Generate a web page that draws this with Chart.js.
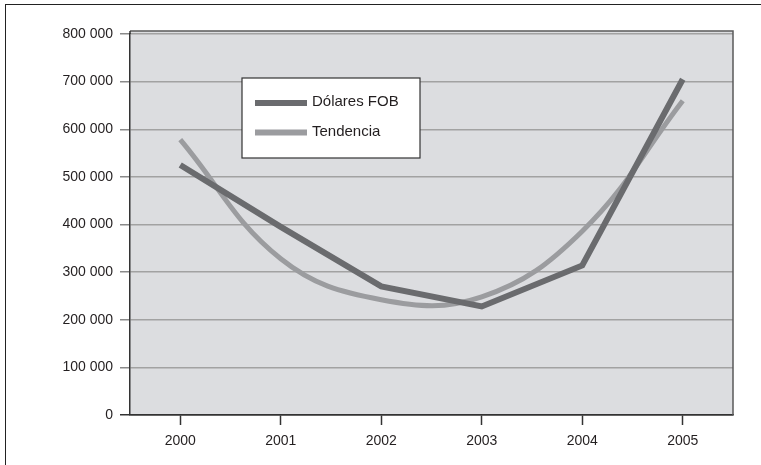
<!DOCTYPE html>
<html>
<head>
<meta charset="utf-8">
<script src="https://cdn.jsdelivr.net/npm/chart.js@4.4.1/dist/chart.umd.min.js"></script>
<style>
  html, body { margin: 0; padding: 0; background: #ffffff; overflow: hidden; }
  #wrap { position: relative; width: 761px; height: 465px; }
  #frame { position: absolute; left: 5px; top: 4px; width: 800px; height: 500px;
           border-top: 1.5px solid #222; border-left: 1.5px solid #222; }
  #c { position: absolute; left: 0; top: 0; }
</style>
</head>
<body>
<div id="wrap">
  <div id="frame"></div>
  <canvas id="c" width="761" height="465"></canvas>
</div>
<script>
// Exportaciones anuales (dólares FOB) y su línea de tendencia
const years = ['2000', '2001', '2002', '2003', '2004', '2005'];
const dolaresFob = [525000, 395000, 270000, 228000, 314000, 705000];
const tendencia = [578000, 328000, 242000, 248000, 386000, 660000];
const seriesNames = ['Dólares FOB', 'Tendencia'];

const FONT = '"Liberation Sans", Arial, Helvetica, sans-serif';
const TEXT = '#231f20';
const DARK = '#6a6b6e';
const LIGHT = '#9b9c9f';

function withSpaces(v) {
  return String(v).replace(/\B(?=(\d{3})+(?!\d))/g, ' ');
}

// Gray plot background and frame around the plotting area
const plotFrame = {
  id: 'plotFrame',
  beforeDraw(chart) {
    const { ctx, chartArea: a } = chart;
    ctx.save();
    ctx.fillStyle = '#dcdde0';
    ctx.fillRect(a.left, a.top - 3, a.right - a.left, a.bottom - a.top + 3);
    ctx.restore();
  },
  beforeDatasetsDraw(chart) {
    const { ctx, chartArea: a } = chart;
    ctx.save();
    ctx.strokeStyle = '#5a5a5a';
    ctx.lineWidth = 1.5;
    ctx.beginPath();
    ctx.moveTo(a.left, a.top - 3);
    ctx.lineTo(a.right, a.top - 3);
    ctx.lineTo(a.right, a.bottom);
    ctx.stroke();
    ctx.strokeStyle = '#333333';
    ctx.beginPath();
    ctx.moveTo(a.left, a.top - 3);
    ctx.lineTo(a.left, a.top);
    ctx.stroke();
    ctx.restore();
  }
};

// Boxed legend floating inside the plotting area
const boxLegend = {
  id: 'boxLegend',
  afterDatasetsDraw(chart) {
    const { ctx, chartArea: a } = chart;
    const x = a.left + 112, y = a.top + 44, w = 178, h = 80;
    ctx.save();
    ctx.fillStyle = '#ffffff';
    ctx.fillRect(x, y, w, h);
    ctx.strokeStyle = '#333333';
    ctx.lineWidth = 1.2;
    ctx.strokeRect(x, y, w, h);
    chart.data.datasets.forEach((ds, i) => {
      const ly = y + 25 + i * 29.5;
      ctx.strokeStyle = ds.borderColor;
      ctx.lineWidth = 6;
      ctx.lineCap = 'butt';
      ctx.beginPath();
      ctx.moveTo(x + 13, ly);
      ctx.lineTo(x + 65, ly);
      ctx.stroke();
      ctx.fillStyle = TEXT;
      ctx.font = '15px ' + FONT;
      ctx.textBaseline = 'middle';
      ctx.textAlign = 'left';
      ctx.fillText(ds.label, x + 70, ly - 1);
    });
    ctx.restore();
  }
};

new Chart(document.getElementById('c'), {
  type: 'line',
  data: {
    labels: years,
    datasets: [
      {
        label: seriesNames[0],
        data: dolaresFob,
        borderColor: DARK,
        borderWidth: 6,
        borderJoinStyle: 'miter',
        borderCapStyle: 'butt',
        tension: 0,
        pointRadius: 0,
        fill: false
      },
      {
        label: seriesNames[1],
        data: tendencia,
        borderColor: LIGHT,
        borderWidth: 5,
        borderCapStyle: 'butt',
        tension: 0.4,
        pointRadius: 0,
        fill: false
      }
    ]
  },
  options: {
    responsive: false,
    animation: false,
    devicePixelRatio: 1,
    layout: { padding: { left: 0, right: 28, top: 34, bottom: 0 } },
    plugins: { legend: { display: false }, tooltip: { enabled: false } },
    scales: {
      x: {
        type: 'category',
        offset: true,
        grid: {
          offset: false,
          drawOnChartArea: false,
          drawTicks: true,
          tickLength: 10,
          tickColor: '#333333',
          tickWidth: 1.5
        },
        border: { display: true, color: '#333333', width: 1.5 },
        ticks: { color: TEXT, font: { family: FONT, size: 14 }, padding: 8, maxRotation: 0 },
        afterFit(scale) { scale.height = 50; }
      },
      y: {
        min: 0,
        max: 800000,
        grid: {
          color: (c) => c.tick && c.tick.value === 0 ? '#333333' : '#a2a2a2',
          lineWidth: 1.5,
          drawTicks: true,
          tickLength: 10,
          tickColor: (c) => c.tick && c.tick.value === 0 ? '#333333' : '#8a8a8a'
        },
        border: { display: true, color: '#333333', width: 1.5 },
        ticks: {
          stepSize: 100000,
          color: TEXT,
          font: { family: FONT, size: 14 },
          padding: 7,
          callback: (v) => withSpaces(v)
        },
        afterFit(scale) { scale.width = 130; }
      }
    }
  },
  plugins: [plotFrame, boxLegend]
});
</script>
</body>
</html>
